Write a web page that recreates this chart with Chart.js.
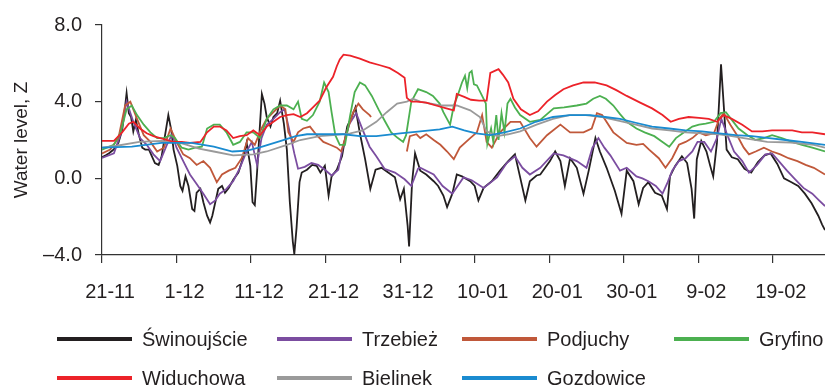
<!DOCTYPE html>
<html>
<head>
<meta charset="utf-8">
<script src="https://cdn.jsdelivr.net/npm/chart.js@4.4.1/dist/chart.umd.min.js"></script>
<style>
  html, body { margin: 0; padding: 0; background: #fff; }
  #wrap { position: relative; width: 825px; height: 385px; }
  #legend {
    position: absolute; left: 57px; top: 327px;
    display: grid; grid-template-columns: 220px 185px 212px 150px; grid-auto-rows: 39px;
    font-family: 'Liberation Sans', Arial, sans-serif; font-size: 20px; color: #231f20;
  }
  .item { display: flex; align-items: center; height: 24px; white-space: nowrap; }
  .swatch { display: inline-block; width: 75px; height: 4px; margin-right: 10px; }
</style>
</head>
<body>
<div id="wrap">
  <canvas id="c" width="825" height="385"></canvas>
  <div id="legend"></div>
</div>
<script>
// ---- data: [day since 21-11, water level] ----
const tickDays = [0, 10, 20, 30, 40, 50, 60, 70, 80, 90];
const tickLabels = ['21-11', '1-12', '11-12', '21-12', '31-12', '10-01', '20-01', '30-01', '9-02', '19-02'];
const yTicks = [-4, 0, 4, 8];

const swinoujscie = [[0,1.1],[0.5,1.2],[0.9,1.3],[1.4,1.45],[1.8,1.6],[2.2,1.85],[2.7,2.5],[3.0,3.4],[3.3,4.45],[3.6,3.4],[3.9,3.2],[4.2,2.45],[4.55,3.05],[4.9,2.35],[5.4,1.6],[5.8,1.5],[6.3,1.5],[6.7,1.15],[7.1,0.8],[7.6,0.7],[8.0,1.15],[8.5,2.35],[8.9,3.3],[9.3,2.5],[9.6,1.5],[10.1,0.65],[10.5,-0.4],[10.8,-0.65],[11.2,0.1],[11.6,-0.4],[12.1,-1.6],[12.4,-1.7],[12.7,-0.75],[13.2,-0.55],[13.6,-1.25],[14.1,-1.95],[14.5,-2.3],[14.8,-1.95],[15.2,-1.25],[15.6,-0.55],[16.1,-0.4],[16.5,-0.75],[17.0,-0.5],[17.65,-0.05],[18.3,0.3],[19.0,1.15],[19.4,1.85],[19.9,0.65],[20.2,-1.25],[20.5,-1.4],[20.8,0.3],[21.1,2.2],[21.45,4.4],[21.8,3.9],[22.1,3.2],[22.6,2.7],[23.0,3.2],[23.5,3.4],[23.9,4.05],[24.4,2.85],[24.8,1.5],[25.2,-1.25],[25.6,-3.3],[25.8,-3.95],[26.1,-2.6],[26.5,-0.2],[26.8,0.3],[27.5,0.45],[28.2,0.7],[28.8,0.65],[29.3,0.3],[29.9,0.65],[30.4,-0.9],[30.8,0.1],[31.5,0.45],[32.2,1.15],[32.9,2.7],[33.5,3.2],[34.0,3.7],[34.6,2.35],[35.3,1.0],[36.0,-0.55],[36.7,0.45],[37.5,0.55],[38.4,0.3],[39.3,0.05],[40.0,-1.1],[40.5,-0.55],[41.0,-2.45],[41.2,-3.55],[41.6,-0.2],[42.0,1.3],[42.7,0.4],[43.5,0.2],[44.5,-0.15],[45.1,-0.4],[45.8,-0.9],[46.3,-1.5],[47.0,-0.8],[47.6,0.2],[48.3,0.1],[49.4,-0.15],[50.0,-0.4],[50.5,-1.15],[51.2,-0.5],[52.3,-0.15],[53.4,0.4],[54.5,0.9],[55.4,1.25],[56.1,0.05],[56.8,-1.15],[57.4,-0.15],[58.3,0.15],[58.8,0.2],[60.1,0.9],[60.8,1.4],[61.5,0.9],[62.1,-0.4],[62.8,1.05],[63.7,0.55],[64.6,-0.8],[65.3,0.4],[66.2,2.1],[66.8,1.4],[67.7,0.55],[68.8,-0.65],[69.7,-1.85],[70.4,0.4],[71.3,-0.15],[72.0,-1.35],[72.6,-0.5],[73.3,-0.2],[74.2,-0.75],[75.1,-0.9],[75.8,-1.6],[76.2,0.1],[76.9,0.65],[77.8,1.15],[78.5,0.8],[79.1,-0.55],[79.45,-2.1],[79.8,1.0],[80.4,1.95],[81.1,1.4],[81.6,0.65],[82.0,0.1],[82.5,1.85],[82.8,4.05],[83.05,5.95],[83.4,3.9],[83.8,1.5],[84.5,1.1],[85.3,1.0],[86.2,0.5],[87.1,0.3],[88.0,0.85],[88.9,1.2],[89.7,1.3],[90.6,0.75],[91.5,0.0],[92.5,-0.2],[93.4,-0.4],[94.3,-0.8],[95.2,-1.3],[96.1,-1.95],[96.6,-2.4],[97,-2.7]];

const trzebiez = [[0,1.06],[1.6,1.3],[2.5,2.3],[3.3,4.0],[4.2,2.95],[5.1,2.1],[6.0,1.75],[6.9,1.25],[7.8,0.9],[8.7,1.75],[9.4,2.3],[10.0,1.6],[10.9,0.9],[11.8,0.2],[12.7,-0.3],[13.6,-0.8],[14.5,-1.35],[15.2,-1.15],[15.8,-0.8],[16.7,-0.55],[17.6,-0.15],[18.5,0.55],[19.4,1.4],[20.1,1.9],[20.8,0.7],[21.4,2.1],[22.1,2.8],[23.0,3.1],[23.9,3.45],[24.5,3.6],[25.2,2.4],[25.8,1.3],[26.3,0.5],[27.2,0.6],[28.1,0.8],[29.0,0.7],[29.9,0.45],[30.8,0.15],[31.7,0.45],[32.3,1.6],[33.2,2.85],[34.1,3.4],[35.0,2.5],[35.9,1.65],[36.8,1.15],[37.9,0.5],[39.3,0.3],[40.6,-0.05],[41.5,-0.4],[42.4,0.5],[42.7,0.55],[44.5,0.2],[45.7,-0.4],[47.0,-0.8],[48.5,0.05],[49.6,-0.1],[51.2,-0.5],[53.0,0.05],[54.3,0.8],[55.4,1.15],[56.4,0.55],[57.4,0.2],[58.8,0.55],[60.6,1.3],[61.9,1.2],[63.7,0.9],[65.0,0.55],[65.8,1.6],[66.6,2.1],[67.4,1.6],[68.2,1.2],[69.5,0.4],[70.4,0.55],[71.7,0.1],[72.5,0.0],[73.3,-0.15],[74.3,-0.4],[75.2,-0.8],[75.9,-0.2],[76.5,0.4],[77.4,0.9],[78.3,1.05],[79.2,1.4],[79.9,1.9],[80.8,1.9],[81.7,1.4],[82.5,2.1],[83.1,3.1],[83.9,2.25],[84.8,1.4],[85.9,0.9],[86.8,0.3],[87.9,0.7],[89.0,1.25],[89.9,1.3],[90.8,0.9],[91.9,0.4],[93.0,-0.05],[94.1,-0.5],[95.3,-0.8],[96.2,-1.15],[97,-1.45]];

const podjuchy = [[0,1.3],[1.1,1.5],[2.2,2.1],[3.1,3.8],[3.8,4.0],[4.7,3.1],[5.6,2.25],[6.5,1.9],[7.4,1.4],[8.3,1.6],[9.2,2.6],[10.0,1.9],[10.9,1.25],[11.8,1.05],[12.7,0.7],[13.6,0.9],[14.5,0.55],[15.4,-0.2],[16.1,0.2],[17.0,0.4],[17.9,0.55],[18.75,1.05],[19.6,2.1],[20.5,1.75],[21.4,2.6],[22.1,3.1],[23.0,3.45],[23.9,3.8],[24.6,3.6],[25.0,2.4],[25.7,1.9],[26.3,2.4],[27.0,2.6],[27.9,2.7],[28.8,2.25],[29.7,1.9],[30.6,1.75],[31.5,1.6],[32.1,1.4],[33.0,2.6],[33.7,3.45],[34.4,3.9],[35.0,3.6],[35.9,3.3],[36.1,3.2],[38.5,null],[40.9,1.4],[41.3,2.2],[42.2,2.3],[42.7,2.1],[43.5,2.3],[44.5,2.0],[45.4,1.75],[46.3,1.4],[47.2,1.0],[48.0,1.6],[49.4,2.1],[50.3,2.4],[51.0,3.3],[51.6,1.9],[52.3,1.6],[53.4,2.4],[54.8,2.95],[56.1,2.95],[57.4,2.1],[58.3,1.65],[59.7,2.25],[61.5,2.8],[62.8,2.4],[64.6,2.4],[65.7,2.6],[66.4,3.4],[67.1,3.3],[68.6,2.4],[70.4,1.85],[71.7,1.75],[72.6,1.8],[73.4,1.5],[74.7,1.05],[75.6,0.55],[76.5,1.05],[77.4,1.75],[78.3,1.9],[79.2,2.1],[80.1,2.4],[81.0,2.25],[82.1,2.35],[82.8,3.1],[83.4,3.4],[84.3,2.8],[85.2,2.25],[86.1,1.6],[86.8,1.25],[87.7,1.4],[88.8,1.6],[89.9,1.4],[91.0,1.25],[92.1,1.05],[93.3,0.9],[94.4,0.7],[95.5,0.55],[97,0.2]];

const gryfino = [[0,1.5],[1.6,1.75],[2.5,2.4],[3.3,3.6],[4.0,3.8],[4.7,3.3],[5.6,2.8],[6.5,2.4],[7.4,2.1],[8.3,2.1],[9.2,2.25],[9.8,2.1],[10.7,1.6],[11.6,1.5],[12.5,1.6],[13.4,1.65],[14.1,2.6],[15.0,2.8],[15.8,2.8],[16.7,2.4],[17.6,1.75],[18.5,1.9],[19.4,2.4],[20.3,2.4],[21.2,2.1],[22.1,3.1],[23.0,3.6],[23.9,3.8],[24.8,3.8],[25.7,3.6],[26.3,4.0],[26.8,3.1],[27.5,3.0],[28.3,3.3],[29.2,4.0],[29.8,5.0],[30.4,4.5],[30.8,3.45],[31.3,2.25],[31.9,1.75],[32.6,1.75],[33.3,3.3],[33.9,4.5],[34.6,5.0],[35.3,4.85],[36.2,4.3],[37.1,3.6],[38.0,2.95],[38.8,2.4],[39.7,2.1],[40.4,1.9],[40.8,2.25],[41.5,4.0],[42.4,4.65],[43.5,4.5],[44.4,4.3],[45.3,3.9],[45.8,3.45],[46.7,2.8],[47.2,3.8],[47.7,4.3],[48.3,5.0],[48.7,5.35],[49.0,4.7],[49.3,5.5],[49.6,5.6],[49.9,4.9],[50.3,4.85],[51.0,4.3],[51.5,3.9],[51.7,1.8],[52.2,2.6],[52.5,1.9],[52.9,3.3],[53.2,2.0],[53.6,3.4],[54.0,2.4],[54.4,3.9],[54.8,4.15],[55.4,3.7],[56.1,3.3],[57.4,2.95],[58.8,3.05],[60.6,3.65],[62.0,3.7],[63.7,3.8],[65.0,3.9],[65.9,4.15],[66.8,4.3],[67.6,4.15],[68.6,3.8],[69.5,3.35],[70.4,2.95],[71.7,2.6],[72.8,2.4],[74.1,2.2],[75.2,1.9],[76.1,1.65],[77.0,2.1],[78.1,2.4],[79.2,2.7],[80.1,2.8],[81.0,2.85],[82.1,2.95],[83.0,3.4],[83.7,3.45],[84.5,3.05],[85.4,2.6],[86.6,2.25],[87.7,2.0],[88.8,2.1],[89.9,2.25],[91.2,2.1],[92.6,1.9],[93.9,1.75],[95.3,1.6],[97,1.4]];

const widuchowa = [[0,1.95],[1.6,1.95],[2.7,2.4],[3.6,2.85],[4.2,2.95],[5.1,2.6],[6.0,2.35],[6.9,2.2],[7.8,2.1],[8.7,2.0],[9.6,1.9],[10.7,1.9],[11.8,1.85],[13.2,1.9],[14.1,2.4],[15.0,2.7],[15.8,2.7],[16.7,2.5],[17.6,2.1],[18.5,2.2],[19.4,2.25],[20.3,2.5],[21.2,2.25],[22.1,2.7],[23.0,2.95],[23.9,3.2],[24.8,3.3],[25.7,3.35],[26.6,3.2],[27.5,3.4],[28.3,3.7],[29.2,4.05],[30.1,4.75],[31.0,5.3],[31.5,5.85],[31.9,6.2],[32.4,6.45],[33.3,6.4],[34.6,6.25],[35.9,6.05],[37.3,5.9],[38.6,5.75],[39.7,5.5],[40.6,5.25],[40.9,4.2],[41.5,4.0],[42.2,4.0],[43.5,3.95],[44.8,3.8],[46.2,3.65],[47.2,3.55],[47.6,4.4],[48.6,4.25],[49.5,4.1],[50.6,4.05],[51.6,4.05],[52.1,5.5],[53.2,5.7],[53.8,5.4],[54.5,5.0],[55.2,4.15],[56.2,3.6],[57.4,3.3],[58.5,3.5],[59.7,4.0],[60.8,4.35],[61.9,4.65],[63.2,4.85],[64.6,5.0],[66.1,5.0],[67.7,4.85],[69.0,4.6],[70.4,4.3],[72.2,3.95],[73.8,3.65],[75.2,3.3],[76.3,2.95],[77.4,3.1],[78.7,3.2],[80.1,3.15],[81.4,3.1],[82.5,2.95],[83.4,3.3],[84.5,3.1],[85.9,2.8],[87.2,2.45],[88.6,2.45],[89.9,2.5],[91.2,2.5],[92.6,2.5],[93.9,2.4],[95.3,2.4],[97,2.3]];

const bielinek = [[0,1.6],[2,1.7],[5,1.9],[8,1.95],[10,1.9],[11.4,1.75],[13,1.55],[15,1.4],[17.6,1.2],[20.3,1.25],[22.1,1.4],[24.8,1.75],[26.6,2.0],[29.2,2.2],[31,2.25],[33.3,2.35],[35,2.5],[36.8,2.95],[38.2,3.45],[39.6,3.9],[40.9,4.0],[41.7,4.15],[42.7,4.0],[45.4,3.8],[47.6,3.8],[49.4,3.55],[50.7,3.2],[51.6,2.45],[53.0,2.2],[54.5,2.3],[56.1,2.45],[58.3,2.8],[60.5,3.1],[62.7,3.3],[64.9,3.3],[67.1,3.2],[69.4,3.0],[71.6,2.8],[73.8,2.6],[76.1,2.5],[78.3,2.4],[80.5,2.35],[82.8,2.3],[84.5,2.2],[86.1,2.1],[89.25,1.9],[92.4,1.87],[95.5,1.75],[97,1.6]];

const gozdowice = [[0,1.6],[4,1.65],[8,1.85],[12,1.85],[15,1.65],[17.5,1.4],[19.5,1.45],[21.5,1.65],[24,1.95],[26,2.2],[27.5,2.3],[30.1,2.3],[32.4,2.3],[34.6,2.2],[36.8,2.2],[40,2.35],[42.7,2.45],[45.3,2.55],[47.0,2.7],[48.6,2.5],[50.2,2.35],[52.1,2.25],[54.0,2.4],[56.1,2.6],[58.2,2.95],[60.5,3.2],[62.8,3.3],[65.5,3.3],[67.5,3.2],[69.5,3.1],[71.6,2.9],[73.8,2.7],[76.1,2.6],[78.3,2.5],[80.5,2.45],[82.8,2.35],[85,2.25],[87.2,2.2],[89.5,2.1],[91.7,2.0],[93.9,1.9],[97,1.75]];

const seriesNames = ['Świnoujście', 'Trzebież', 'Podjuchy', 'Gryfino', 'Widuchowa', 'Bielinek', 'Gozdowice'];
const seriesData = [swinoujscie, trzebiez, podjuchy, gryfino, widuchowa, bielinek, gozdowice];
const seriesColors = ['#231f20', '#7b4da0', '#c0583a', '#4cb050', '#ec2229', '#9a9a9a', '#1a8bd0'];
const seriesOrder = [6, 5, 4, 3, 1, 2, 0];

const FONT = "'Liberation Sans', Arial, sans-serif";
const fmt = v => (v < 0 ? '\u2013' : '') + Math.abs(v).toFixed(1);

const chart = new Chart(document.getElementById('c'), {
  type: 'line',
  data: {
    datasets: seriesNames.map((name, i) => ({
      label: name,
      data: seriesData[i].map(p => ({ x: p[0], y: p[1] })),
      borderColor: seriesColors[i],
      backgroundColor: seriesColors[i],
      borderWidth: 1.8,
      pointRadius: 0,
      tension: 0,
      fill: false,
      spanGaps: false,
      order: seriesOrder[i]
    }))
  },
  options: {
    responsive: false,
    animation: false,
    devicePixelRatio: 1,
    layout: { padding: { top: 22, right: 0, bottom: 64, left: 0 } },
    plugins: { legend: { display: false }, tooltip: { enabled: false } },
    scales: {
      x: {
        type: 'linear', min: 0, max: 97,
        afterBuildTicks: s => { s.ticks = tickDays.map(v => ({ value: v })); },
        ticks: {
          callback: v => tickLabels[tickDays.indexOf(v)],
          font: { family: FONT, size: 20 }, color: '#231f20',
          padding: 17, maxRotation: 0, autoSkip: false, labelOffset: 8
        },
        grid: { drawOnChartArea: false, drawTicks: true, tickLength: 8, color: '#333', lineWidth: 1.2 },
        border: { display: true, color: '#333', width: 1.2 }
      },
      y: {
        type: 'linear', min: -4, max: 8,
        afterBuildTicks: s => { s.ticks = yTicks.map(v => ({ value: v })); },
        afterFit: s => { s.width = 102; },
        ticks: { callback: v => fmt(v), font: { family: FONT, size: 20 }, color: '#231f20', padding: 13 },
        grid: { drawOnChartArea: false, drawTicks: true, tickLength: 7, color: '#333', lineWidth: 1.2 },
        border: { display: true, color: '#333', width: 1.2 },
        title: { display: true, text: 'Water level, Z', font: { family: FONT, size: 19 }, color: '#231f20', padding: { top: 10, bottom: 4 } }
      }
    }
  }
});

// HTML legend built from the chart's datasets
const legend = document.getElementById('legend');
chart.data.datasets.forEach(ds => {
  const item = document.createElement('div');
  item.className = 'item';
  const sw = document.createElement('span');
  sw.className = 'swatch';
  sw.style.background = ds.borderColor;
  item.appendChild(sw);
  item.appendChild(document.createTextNode(ds.label));
  legend.appendChild(item);
});
</script>
</body>
</html>
